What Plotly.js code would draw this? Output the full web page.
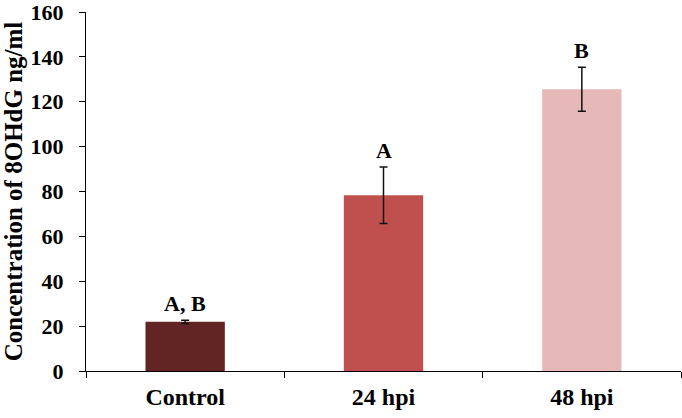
<!DOCTYPE html>
<html>
<head>
<meta charset="utf-8">
<script src="https://cdn.plot.ly/plotly-3.0.1.min.js"></script>
<style>html,body{margin:0;padding:0;background:#fff;}#chart{width:682px;height:418px;}</style>
</head>
<body>
<div id="chart"></div>
<script>
var categories = ["Control", "24 hpi", "48 hpi"];
var values = [21.9, 78.3, 125.6];
var errors = [0.7, 12.6, 9.8];
var letters = ["A, B", "A", "B"];
var colors = ["#632523", "#C0504D", "#E6B9B8"];
var yTicks = [0, 20, 40, 60, 80, 100, 120, 140, 160];

var FONT = "'Liberation Serif', 'Times New Roman', serif";

var trace = {
  type: "bar",
  x: categories,
  y: values,
  marker: {color: colors, line: {width: 0}},
  error_y: {type: "data", array: errors, visible: true, color: "#111", thickness: 1.5, width: 4},
  hoverinfo: "none"
};

var annotations = categories.map(function (c, i) {
  return {
    x: c, y: values[i] + errors[i], xref: "x", yref: "y",
    text: "<b>" + letters[i] + "</b>", showarrow: false,
    yanchor: "bottom", yshift: 2,
    font: {family: FONT, size: 22, color: "#000"}
  };
});

var layout = {
  width: 682, height: 418,
  margin: {l: 86, r: 1, t: 12, b: 47},
  paper_bgcolor: "#fff", plot_bgcolor: "#fff",
  showlegend: false,
  bargap: 0.6,
  font: {family: FONT, color: "#000"},
  xaxis: {
    showline: true, linecolor: "#000", linewidth: 1,
    ticks: "outside", ticklen: 6, tickcolor: "#000",
    tickson: "boundaries",
    ticklabelstandoff: 4,
    ticklabeloverflow: "allow",
    tickfont: {family: FONT, size: 24, color: "#000", weight: "bold"},
    showgrid: false, zeroline: false, fixedrange: true
  },
  yaxis: {
    range: [0, 160], tickvals: yTicks,
    showline: true, linecolor: "#000", linewidth: 1,
    ticks: "outside", ticklen: 6, tickcolor: "#000",
    ticklabelstandoff: 11,
    ticklabeloverflow: "allow",
    tickfont: {family: FONT, size: 22, color: "#000", weight: "bold"},
    showgrid: false, zeroline: false, fixedrange: true,
    title: {text: "<b>Concentration of 8OHdG ng/ml</b>", font: {family: FONT, size: 25, color: "#000"}, standoff: 3}
  },
  annotations: annotations
};

Plotly.newPlot("chart", [trace], layout, {displayModeBar: false, staticPlot: true});
</script>
</body>
</html>
